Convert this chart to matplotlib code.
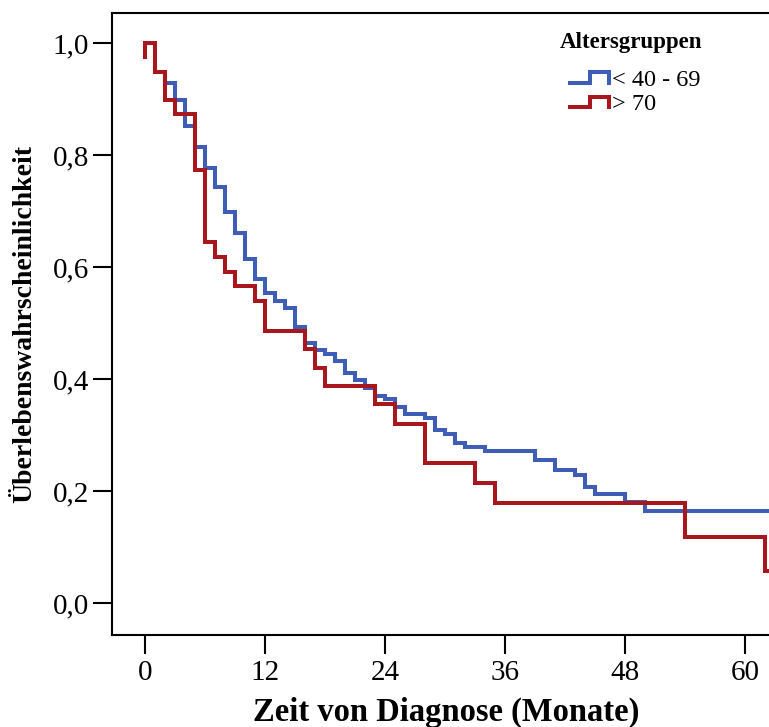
import numpy as np
import matplotlib
matplotlib.use("Agg")
import matplotlib.pyplot as plt
from matplotlib.lines import Line2D
from matplotlib.legend_handler import HandlerBase
from matplotlib.ticker import FuncFormatter

# Kaplan-Meier Stufen (Monate, Überlebenswahrscheinlichkeit)
zeit_jung = [0, 1, 2, 3, 4, 5, 6, 7, 8, 9, 10, 11, 12, 13, 14, 15, 16, 17, 18,
             19, 20, 21, 22, 23, 24, 25, 26, 28, 29, 30, 31, 32, 34, 39, 41,
             43, 44, 45, 48, 50, 65]
surv_jung = [1.0, 0.948, 0.930, 0.898, 0.852, 0.815, 0.777, 0.744, 0.698,
             0.661, 0.614, 0.580, 0.554, 0.540, 0.527, 0.493, 0.465, 0.452,
             0.446, 0.433, 0.412, 0.399, 0.384, 0.371, 0.365, 0.351, 0.338,
             0.331, 0.309, 0.302, 0.287, 0.280, 0.272, 0.256, 0.238, 0.229,
             0.207, 0.196, 0.181, 0.164, 0.164]

zeit_alt = [0, 0, 1, 2, 3, 5, 6, 7, 8, 9, 11, 12, 16, 17, 18, 23, 25, 28, 33,
            35, 54, 62, 65]
surv_alt = [0.975, 1.0, 0.948, 0.899, 0.874, 0.774, 0.646, 0.619, 0.592,
            0.567, 0.540, 0.487, 0.454, 0.421, 0.388, 0.356, 0.320, 0.250,
            0.214, 0.179, 0.119, 0.058, 0.058]

gruppen = ["< 40 - 69", "> 70"]
farben = ["#3F5DB4", "#A8171E"]
x_ticks = [0, 12, 24, 36, 48, 60]
y_ticks = [0.0, 0.2, 0.4, 0.6, 0.8, 1.0]

serif = ["Liberation Serif", "DejaVu Serif"]
plt.rcParams["font.family"] = serif


class StepHandler(HandlerBase):
    # Legendensymbol als kleine Stufe wie in SPSS
    def create_artists(self, legend, orig_handle, xdescent, ydescent,
                       width, height, fontsize, trans):
        x0 = -xdescent + 7
        w = width - 7
        lo = -ydescent + 0.1 * height
        hi = -ydescent + 0.85 * height
        xs = [x0, x0 + 0.52 * w, x0 + 0.52 * w, x0 + w, x0 + w]
        ys = [lo, lo, hi, hi, lo]
        ln = Line2D(xs, ys, color=orig_handle.get_color(),
                    lw=orig_handle.get_linewidth(), transform=trans,
                    solid_joinstyle="miter")
        return [ln]


fig = plt.figure(figsize=(7.69, 7.27), dpi=100)
ax = fig.add_axes([0.145, 0.1265, 0.889, 0.8552])

l1, = ax.step(zeit_jung, surv_jung, where="post", color=farben[0], lw=2.9,
              solid_joinstyle="miter")
l2, = ax.step(zeit_alt, surv_alt, where="post", color=farben[1], lw=2.9,
              solid_joinstyle="miter")

ax.set_xlim(-3.35, 65.0)
ax.set_ylim(-0.0566, 1.0536)
ax.set_xticks(x_ticks)
ax.set_yticks(y_ticks)
ax.yaxis.set_major_formatter(FuncFormatter(lambda v, p: f"{v:.1f}".replace(".", ",")))
ax.tick_params(direction="out", length=14, width=1.5, labelsize=21, pad=2)
ax.tick_params(axis="x", pad=4)
for s in ax.spines.values():
    s.set_linewidth(1.5)

ax.set_xlabel("Zeit von Diagnose (Monate)", fontsize=23.5, fontweight="bold",
              labelpad=7.5)
ax.xaxis.label.set_x(0.489)
ax.set_ylabel("Überlebenswahrscheinlichkeit", fontsize=20, fontweight="bold",
              labelpad=11)

leg = ax.legend([l1, l2], gruppen, title="Altersgruppen", frameon=False,
                loc="upper left", bbox_to_anchor=(560 / 769, 1 - 32 / 727),
                bbox_transform=fig.transFigure, fontsize=17.5,
                handler_map={Line2D: StepHandler()}, handlelength=2.0,
                handleheight=0.5, handletextpad=0.12, labelspacing=0.14,
                borderpad=0, borderaxespad=0, alignment="left")
leg.get_title().set_fontweight("bold")
leg.get_title().set_fontsize(16.5)
leg._legend_box.sep = 12

fig.savefig("out.png", dpi=100)
